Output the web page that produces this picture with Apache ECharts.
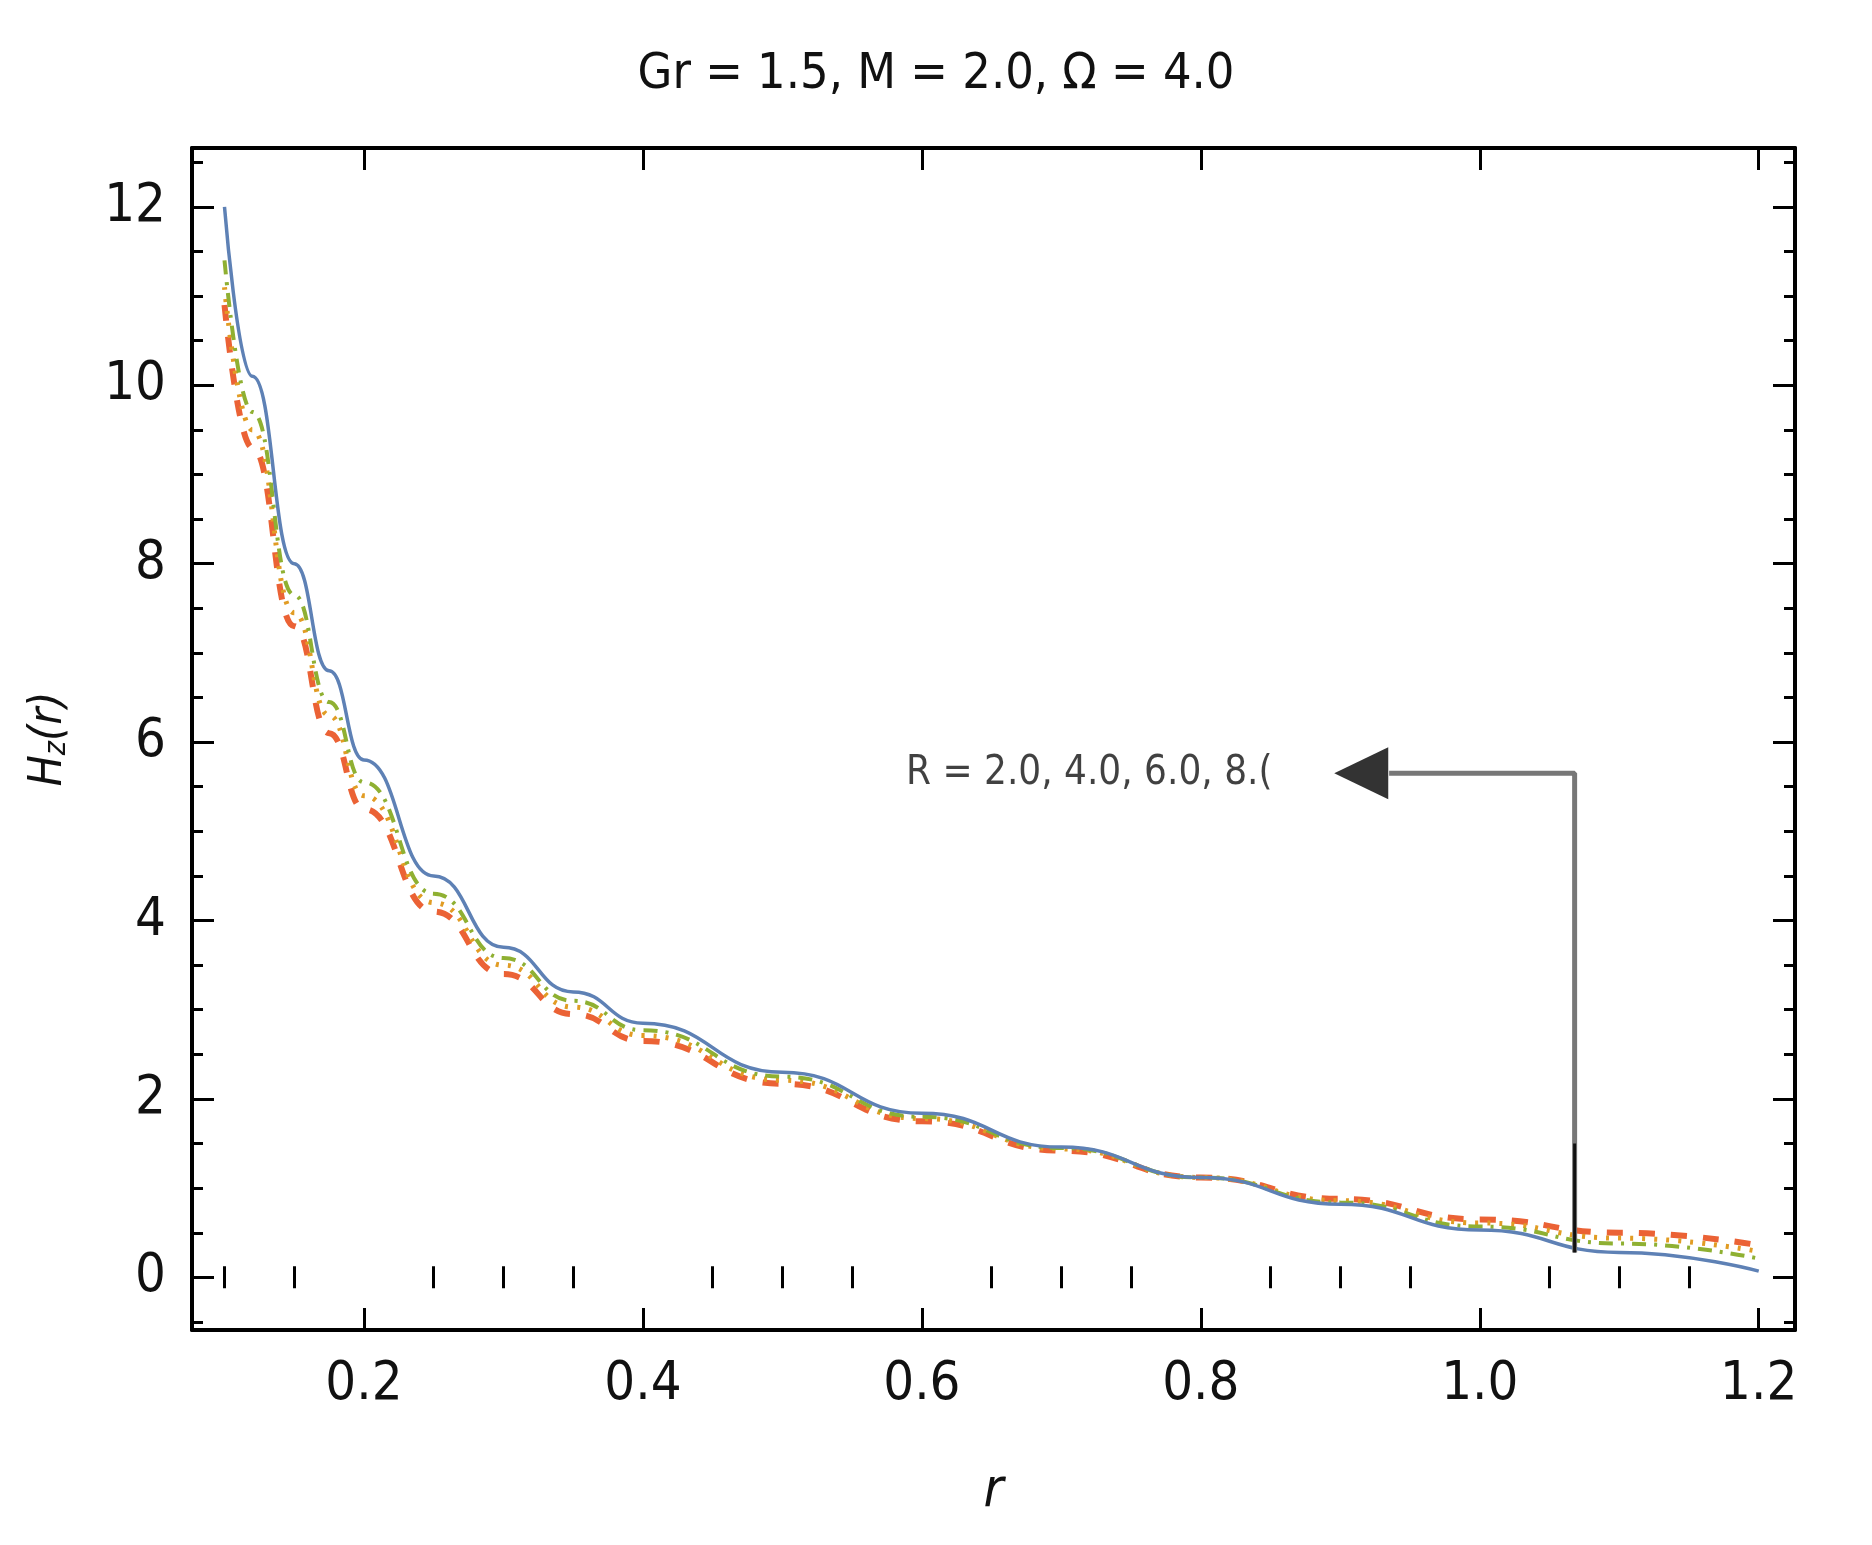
<!DOCTYPE html>
<html><head><meta charset="utf-8">
<script src="https://cdn.jsdelivr.net/npm/echarts@6/dist/echarts.min.js"></script>
<style>html,body{margin:0;background:#fff}#c{width:1872px;height:1545px}</style>
</head><body><div id="c"></div>
<script>
const rVals = [0.1,0.12,0.15,0.175,0.2,0.25,0.3,0.35,0.4,0.5,0.6,0.7,0.8,0.9,1.0,1.1,1.2];
const hzBlue   = [12,10.1,8,6.8,5.8,4.5,3.7,3.2,2.85,2.3,1.84,1.46,1.12,0.82,0.53,0.28,0.07];
const hzGreen  = [11.4,9.7,7.65,6.45,5.55,4.3,3.58,3.1,2.77,2.25,1.8,1.45,1.12,0.84,0.57,0.38,0.21];
const hzYellow = [11.1,9.5,7.45,6.3,5.4,4.2,3.5,3.03,2.71,2.21,1.78,1.44,1.12,0.86,0.61,0.44,0.29];
const hzRed    = [10.9,9.3,7.3,6.1,5.25,4.1,3.4,2.95,2.65,2.17,1.75,1.42,1.12,0.88,0.65,0.5,0.36];
const xTicks = [0.2,0.4,0.6,0.8,1.0,1.2];
const xMinor = [0.1,0.15,0.25,0.3,0.35,0.45,0.5,0.55,0.65,0.7,0.75,0.85,0.9,0.95,1.05,1.1,1.15];
const yTicks = [0,2,4,6,8,10,12];
const yMinor = [-0.5,0.5,1,1.5,2.5,3,3.5,4.5,5,5.5,6.5,7,7.5,8.5,9,9.5,10.5,11,11.5,12.5];
const arrowPath = [[1.068,0.28],[1.068,5.65],[0.935,5.65]];
const annText = 'R = 2.0, 4.0, 6.0, 8.(';

const pts = a => rVals.map((x,i)=>[x,a[i]]);
const font = 'DejaVu Sans Condensed, Liberation Sans, sans-serif';
const major = {show:true,inside:true,length:22,lineStyle:{color:'#000',width:3}};
const minorT = {show:true,inside:true,length:11,lineStyle:{color:'#000',width:3}};
const axisLine = {show:true,onZero:false,lineStyle:{color:'#000',width:4}};
const XMIN=0.0767, XMAX=1.226, YMIN=-0.59, YMAX=12.66;
const xAxes = [], yAxes = [];
['bottom','top'].forEach((p,k)=>{
  xAxes.push({type:'value',position:p,min:XMIN,max:XMAX,axisLine,splitLine:{show:false},
    axisTick:Object.assign({customValues:xTicks},major),
    axisLabel:k===0?{customValues:xTicks,fontFamily:font,fontSize:54,color:'#111',margin:28,formatter:v=>v.toFixed(1)}:{show:false},
    name:k===0?'r':'',nameLocation:'middle',nameGap:135,
    nameTextStyle:{fontFamily:font,fontSize:54,fontStyle:'italic',color:'#111'}});
  xAxes.push({type:'value',position:p,min:XMIN,max:XMAX,axisLine:{show:false},splitLine:{show:false},
    axisTick:Object.assign({customValues:xMinor},minorT),axisLabel:{show:false}});
});
['left','right'].forEach((p,k)=>{
  yAxes.push({type:'value',position:p,min:YMIN,max:YMAX,axisLine,splitLine:{show:false},
    axisTick:Object.assign({customValues:yTicks},major),
    axisLabel:k===0?{customValues:yTicks,fontFamily:font,fontSize:54,color:'#111',margin:26}:{show:false},
    name:k===0?'{i|H}{s|z}{i|(r)}':'',nameLocation:'middle',nameGap:120,
    nameTextStyle:{rich:{i:{fontFamily:font,fontSize:46,fontStyle:'italic',color:'#111'},
      s:{fontFamily:font,fontSize:30,fontStyle:'italic',color:'#111',verticalAlign:'bottom',padding:[16,0,0,0]}}}});
  yAxes.push({type:'value',position:p,min:YMIN,max:YMAX,axisLine:{show:false},splitLine:{show:false},
    axisTick:Object.assign({customValues:yMinor},minorT),axisLabel:{show:false}});
});
const chart = echarts.init(document.getElementById('c'));
const line = (d,c,type,w) => ({type:'line',data:pts(d),smooth:0.5,smoothMonotone:'x',showSymbol:false,symbol:'none',
  lineStyle:{color:c,width:w,type:type},z:3});
chart.setOption({
  animation:false,
  title:{text:'Gr = 1.5, M = 2.0, Ω = 4.0',left:'center',top:45,
    textStyle:{fontFamily:font,fontSize:50,fontWeight:'normal',color:'#111'}},
  grid:{left:192,right:77,top:148,bottom:215},
  xAxis:xAxes, yAxis:yAxes,
  series:[
    line(hzRed,'#EB6235',[16,16],6),
    line(hzYellow,'#E19C24',[3,9],5),
    line(hzGreen,'#8FB032',[14,8,3,8],4),
    line(hzBlue,'#5E81B5',null,3.5),
    {type:'line',data:arrowPath,showSymbol:false,symbol:'none',
      lineStyle:{color:'#777',width:5},z:4},
    {type:'line',data:[[1.068,0.28],[1.068,1.5]],showSymbol:false,symbol:'none',
      lineStyle:{color:'#111',width:3},z:4},
    {type:'scatter',data:[[0.915,5.65]],symbol:'triangle',symbolRotate:90,symbolSize:[52,54],
      itemStyle:{color:'#000'},z:5},
    {type:'scatter',data:[[0.72,5.65]],symbolSize:0,z:5,
      label:{show:true,position:'inside',formatter:annText,fontFamily:font,fontSize:40,color:'#111'}}
  ]
});
</script></body></html>
